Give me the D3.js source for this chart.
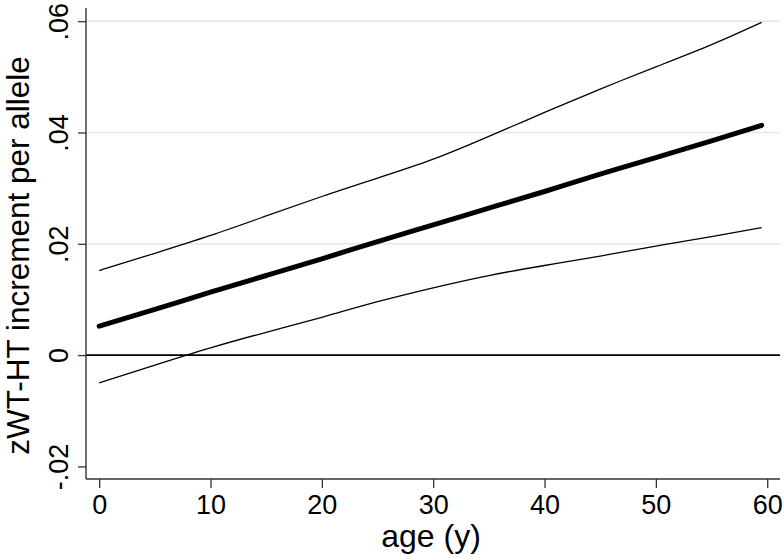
<!DOCTYPE html>
<html>
<head>
<meta charset="utf-8">
<script src="https://cdn.jsdelivr.net/npm/d3@7"></script>
<style>
  html, body { margin: 0; padding: 0; background: #fff; }
  svg { display: block; }
  text { font-family: "Liberation Sans", Arial, Helvetica, sans-serif; fill: #000; }
</style>
</head>
<body>
<svg id="chart" width="784" height="558"></svg>
<script>
// ---- data ----
const ages = [0, 5, 10, 15, 20, 25, 30, 35, 40, 45, 50, 55, 59.5];
const estimate = [0.0052, 0.0082, 0.0113, 0.0143, 0.0173, 0.0204, 0.0234, 0.0264, 0.0294, 0.0325, 0.0355, 0.0385, 0.0413];
const upperCI = [0.0152, 0.0183, 0.0215, 0.0250, 0.0285, 0.0318, 0.0352, 0.0393, 0.0436, 0.0478, 0.0518, 0.0558, 0.0598];
const lowerCI = [-0.0050, -0.0018, 0.0013, 0.0041, 0.0068, 0.0096, 0.0121, 0.0143, 0.0161, 0.0178, 0.0196, 0.0213, 0.0229];
const xTicks = [0, 10, 20, 30, 40, 50, 60];
const yTicks = [-0.02, 0, 0.02, 0.04, 0.06];
const yTickLabels = ["-.02", "0", ".02", ".04", ".06"];
const gridValues = [0.02, 0.04, 0.06];
const xTitle = "age (y)";
const yTitle = "zWT-HT increment per allele";

// ---- layout ----
const plot = { left: 86, right: 780, top: 8, bottom: 479 };
const svg = d3.select("#chart");

const x = d3.scaleLinear().domain([0, 60]).range([99.2, 767.2]);
const y = d3.scaleLinear().domain([-0.02, 0.06]).range([466.4, 21.2]);

// gridlines
svg.append("g").selectAll("line").data(gridValues).join("line")
  .attr("x1", plot.left).attr("x2", plot.right)
  .attr("y1", d => y(d)).attr("y2", d => y(d))
  .attr("stroke", "#e6e6e6").attr("stroke-width", 1.4);

// zero reference line
svg.append("line")
  .attr("x1", plot.left).attr("x2", plot.right)
  .attr("y1", y(0)).attr("y2", y(0))
  .attr("stroke", "#000").attr("stroke-width", 1.8);

// y axis
const yAxis = d3.axisLeft(y).tickValues(yTicks)
  .tickFormat((d, i) => yTickLabels[i]).tickSize(8).tickPadding(0);
const gy = svg.append("g").attr("transform", `translate(${plot.left},0)`).call(yAxis);
gy.select(".domain").remove();
gy.selectAll(".tick line").attr("stroke", "#333").attr("stroke-width", 1.3);
gy.selectAll(".tick text")
  .attr("x", null).attr("dy", null)
  .attr("transform", "translate(-18,0) rotate(-90)")
  .attr("text-anchor", "middle")
  .style("font-size", "27px");
svg.append("line")
  .attr("x1", plot.left).attr("x2", plot.left)
  .attr("y1", plot.top).attr("y2", plot.bottom)
  .attr("stroke", "#333").attr("stroke-width", 1.4);

// x axis
const xAxis = d3.axisBottom(x).tickValues(xTicks).tickFormat(d3.format("d"))
  .tickSize(9).tickPadding(0);
const gx = svg.append("g").attr("transform", `translate(0,${plot.bottom})`).call(xAxis);
gx.select(".domain").remove();
gx.selectAll(".tick line").attr("stroke", "#333").attr("stroke-width", 1.3);
gx.selectAll(".tick text").attr("y", 35).attr("dy", null)
  .style("font-size", "27px");
svg.append("line")
  .attr("x1", plot.left).attr("x2", plot.right)
  .attr("y1", plot.bottom).attr("y2", plot.bottom)
  .attr("stroke", "#333").attr("stroke-width", 1.4);

// titles
svg.append("text")
  .attr("x", (plot.left + plot.right) / 2 - 2).attr("y", 547)
  .attr("text-anchor", "middle").style("font-size", "32px")
  .text(xTitle);
svg.append("text")
  .attr("transform", `translate(29,${(plot.top + plot.bottom) / 2 + 12}) rotate(-90)`)
  .attr("text-anchor", "middle").style("font-size", "31.5px")
  .text(yTitle);

// lines
const mk = vals => d3.line().x((d, i) => x(ages[i])).y(d => y(d)).curve(d3.curveNatural)(vals);
svg.append("path").attr("d", mk(upperCI)).attr("fill", "none")
  .attr("stroke", "#000").attr("stroke-width", 1.3);
svg.append("path").attr("d", mk(lowerCI)).attr("fill", "none")
  .attr("stroke", "#000").attr("stroke-width", 1.3);
svg.append("path").attr("d", mk(estimate)).attr("fill", "none")
  .attr("stroke", "#000").attr("stroke-width", 5).attr("stroke-linecap", "round");
</script>
</body>
</html>
